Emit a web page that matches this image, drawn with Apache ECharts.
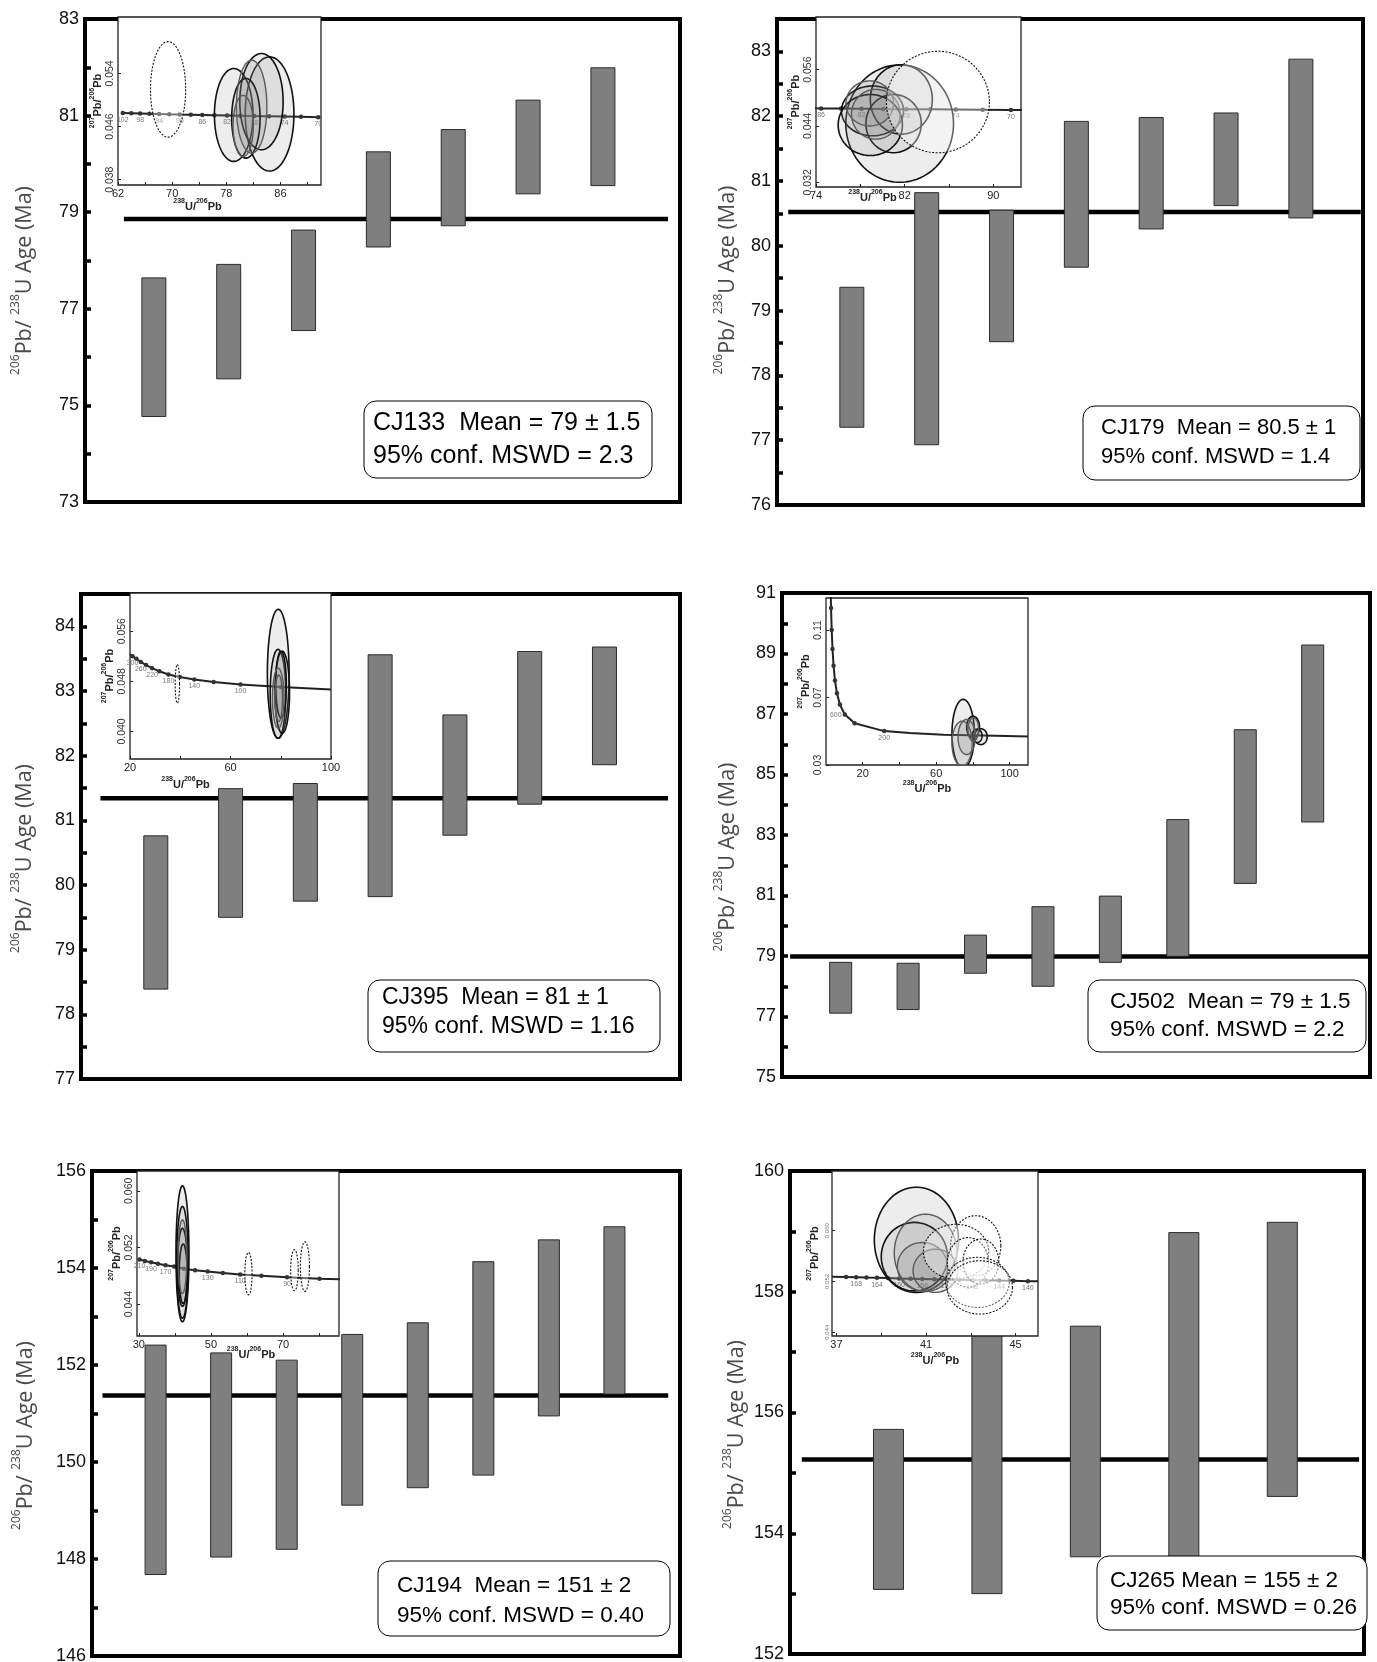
<!DOCTYPE html>
<html><head><meta charset="utf-8">
<script src="https://cdn.jsdelivr.net/npm/echarts@6/dist/echarts.min.js"></script>
<style>html,body{margin:0;padding:0;background:#fff}#c{width:1377px;height:1662px}</style>
</head><body><div id="c"></div>
<script>
// ===== Weighted-mean bars (206Pb/238U ages, Ma): low / high ends =====
const p1Low  = [74.77, 75.55, 76.55, 78.28, 78.72, 79.38, 79.55];
const p1High = [77.64, 77.92, 78.63, 80.25, 80.71, 81.32, 81.99];
const p1Mean = 78.86;
const p1YLabels = [73, 75, 77, 79, 81, 83];
const p1Text = ['CJ133  Mean = 79 \u00b1 1.5', '95% conf. MSWD = 2.3'];

const p2Low  = [77.20, 76.93, 78.52, 79.67, 80.26, 80.62, 80.43];
const p2High = [79.36, 80.82, 80.55, 81.92, 81.98, 82.05, 82.88];
const p2Mean = 80.52;
const p2YLabels = [76, 77, 78, 79, 80, 81, 82, 83];
const p2Text = ['CJ179  Mean = 80.5 \u00b1 1', '95% conf. MSWD = 1.4'];

const p3Low  = [78.39, 79.50, 79.75, 79.82, 80.77, 81.25, 81.86];
const p3High = [80.76, 81.49, 81.57, 83.56, 82.63, 83.61, 83.68];
const p3Mean = 81.34;
const p3YLabels = [77, 78, 79, 80, 81, 82, 83, 84];
const p3Text = ['CJ395  Mean = 81 \u00b1 1', '95% conf. MSWD = 1.16'];

const p4Low  = [77.11, 77.23, 78.43, 78.00, 78.79, 78.99, 81.40, 83.43];
const p4High = [78.79, 78.76, 79.69, 80.63, 80.98, 83.51, 86.48, 89.28];
const p4Mean = 78.98;
const p4YLabels = [75, 77, 79, 81, 83, 85, 87, 89, 91];
const p4Text = ['CJ502  Mean = 79 \u00b1 1.5', '95% conf. MSWD = 2.2'];

const p5Low  = [147.68, 148.04, 148.20, 149.11, 149.47, 149.73, 150.95, 151.40];
const p5High = [152.41, 152.25, 152.10, 152.63, 152.87, 154.13, 154.58, 154.85];
const p5Mean = 151.37;
const p5YLabels = [146, 148, 150, 152, 154, 156];
const p5Text = ['CJ194  Mean = 151 \u00b1 2', '95% conf. MSWD = 0.40'];

const p6Low  = [153.07, 153.00, 153.61, 153.30, 154.61];
const p6High = [155.72, 157.90, 157.43, 158.98, 159.15];
const p6Mean = 155.22;
const p6YLabels = [152, 154, 156, 158, 160];
const p6Text = ['CJ265 Mean = 155 \u00b1 2', '95% conf. MSWD = 0.26'];

// ===== Concordia insets: curve points [238U/206Pb, 207Pb/206Pb], age labels ('' = dot, null = no dot) =====
const i1XTicks = [62, 70, 78, 86], i1XMinor = [66, 74, 82, 90];
const i1YTicks = ['0.038', '0.046', '0.054'];
const i1Curve = [[62.70,0.04806],[63.97,0.04802],[65.28,0.04798],[66.65,0.04794],[68.08,0.04790],[69.57,0.04786],[71.13,0.04782],[72.76,0.04778],[74.46,0.04774],[76.25,0.04770],[78.12,0.04766],[80.08,0.04762],[82.15,0.04758],[84.32,0.04754],[86.62,0.04750],[89.04,0.04746],[91.59,0.04741]];
const i1Ages = ['102','','98','','94','','90','','86','','82','','78','','74','','70'];
const i1Black = [[84.4,0.0479,3.6,0.0086],[79.1,0.04775,2.85,0.0070],[83.2,0.04975,3.2,0.00725],[80.9,0.04725,2.1,0.0060]];
const i1Gray = [[81.75,0.0490,2.25,0.0070],[80.5,0.0461,1.5,0.0046]];
const i1Dash = [[69.4,0.0516,2.6,0.0072]];

const i2XTicks = [74, 82, 90], i2XMinor = [78, 86];
const i2YTicks = ['0.032', '0.044', '0.056'];
const i2Curve = [[72.76,0.04778],[74.46,0.04774],[76.25,0.04770],[78.12,0.04766],[80.08,0.04762],[82.15,0.04758],[84.32,0.04754],[86.62,0.04750],[89.04,0.04746],[91.59,0.04741],[93.0,0.04739]];
const i2Ages = ['','86','','82','','78','','74','','70',null];
const i2Black = [[81.55,0.0445,4.86,0.0125],[79.1,0.0472,2.8,0.0053],[81.7,0.04965,2.8,0.0074],[81.0,0.0445,2.5,0.0062],[78.9,0.0442,2.9,0.0065]];
const i2Gray = [[78.85,0.0488,2.15,0.0048],[79.4,0.0465,2.2,0.0053]];
const i2Dash = [[85.0,0.0491,4.65,0.0108]];

const i3XTicks = [20, 60, 100], i3XMinor = [40, 80];
const i3YTicks = ['0.040', '0.048', '0.056'];
const i3Curve = [[20.0,0.0523],[21.0,0.0520],[22.5,0.0516],[24.3,0.0511],[26.4,0.0506],[28.8,0.0501],[31.7,0.0496],[35.3,0.0491],[39.8,0.0487],[45.6,0.0483],[53.3,0.0479],[64.0,0.0475],[80.1,0.0471],[100,0.0467]];
const i3Ages = [null,'300','','260','','220','','180','','140','','100','',null];
const i3Black = [[79.0,0.0492,4.33,0.0103],[78.9,0.0460,3.1,0.0071],[80.6,0.04625,2.9,0.00655],[80.1,0.0475,2.1,0.0053]];
const i3Gray = [[79.0,0.0453,2.3,0.0048],[79.2,0.0453,1.5,0.0037]];
const i3Dash = [[38.85,0.0476,0.87,0.0031]];

const i4XTicks = [20, 60, 100], i4XMinor = [40, 80];
const i4YTicks = ['0.03', '0.07', '0.11'];
const i4Curve = [[2.6,0.131],[2.75,0.123],[3.10,0.110],[3.55,0.0987],[4.12,0.0888],[4.89,0.0801],[5.96,0.0725],[7.57,0.0658],[10.25,0.0599],[15.6,0.0547],[31.7,0.0501],[45.6,0.0489],[64,0.0480],[80,0.0476],[110,0.0469]];
const i4Ages = [null,'','','','','','','','600','','200',null,null,null,null];
const i4Black = [[74.7,0.0486,6.1,0.0203],[80.1,0.0525,3.5,0.0064],[84.3,0.0468,3.5,0.0047],[82.3,0.0473,2.7,0.0040]];
const i4Gray = [[74.1,0.0427,5.5,0.0133],[76.6,0.0466,4.7,0.0104],[80.2,0.0511,2.9,0.0070]];
const i4Dash = [];

const i5XTicks = [30, 50, 70], i5XMinor = [40, 60, 80];
const i5YTicks = ['0.044', '0.052', '0.060'];
const i5Curve = [[30.2,0.0503],[31.7,0.0501],[33.4,0.0499],[35.3,0.0497],[37.4,0.0495],[39.8,0.0493],[42.5,0.0490],[45.6,0.0488],[49.1,0.0486],[53.3,0.0484],[58.1,0.0482],[64.0,0.0480],[71.1,0.0478],[80.1,0.0476],[86,0.0475]];
const i5Ages = ['210','','190','','170','','','','130','','110','','90','',null];
const i5Black = [[42.1,0.0511,1.8,0.0096],[42.1,0.0499,1.6,0.0079],[42.1,0.0492,1.35,0.0055],[42.3,0.0483,1.1,0.0042]];
const i5Gray = [[42.1,0.0507,1.2,0.0052]];
const i5Dash = [[60.4,0.0483,1.0,0.0030],[73.15,0.0488,1.05,0.0029],[76.05,0.0493,1.25,0.0035]];

const i6XTicks = [37, 41, 45], i6XMinor = [39, 43];
const i6YTicks = ['0.044', '0.052', '0.060'];
const i6Curve = [[36.8,0.05272],[37.43,0.05269],[37.88,0.05265],[38.34,0.05260],[38.81,0.05256],[39.30,0.05252],[39.80,0.05247],[40.31,0.05243],[40.83,0.05239],[41.37,0.05234],[41.92,0.05230],[42.48,0.05226],[43.06,0.05221],[43.66,0.05217],[44.27,0.05213],[44.90,0.05209],[45.55,0.05204],[46.0,0.05201]];
const i6Ages = [null,'','168','','164','','160','','156','','152','','148','','144','','140',null];
const i6Black = [[40.57,0.05855,1.88,0.0083],[40.48,0.0559,1.48,0.0054]];
const i6Gray = [[40.98,0.0565,1.4,0.0061],[40.84,0.05434,1.12,0.0038],[41.42,0.05368,1.0,0.0034]];
const i6Dash = [[43.22,0.05762,1.12,0.00474],[42.34,0.0567,1.46,0.0043],[42.87,0.0550,0.92,0.0039],[43.45,0.05513,0.8,0.00355],[43.3,0.05185,1.42,0.00395],[43.4,0.05106,1.46,0.0042]];

// ===== Layout (positions / sizes / styles) =====
const FONT = '"Liberation Sans", Arial, sans-serif';
const TFONT = '"Open Sans", "Liberation Sans", sans-serif';
const panels = [
  {grid:{left:85,top:19,width:595,height:483}, x:[0.08,8.03], y:[73,83,1], yl:p1YLabels, low:p1Low, high:p1High, mean:p1Mean, meanX:[0.6,7.87], barW:24, nameGap:49, namePad:[0,40,0,0], text:p1Text,
   box:{x:364,y:401,w:288,h:77,tx:373,l1:423,l2:456,fs:25},
   ins:{grid:{left:118,top:17,width:203,height:168}, x:[62,92], y:[0.0372,0.0625], xt:i1XTicks, xm:i1XMinor, yt:i1YTicks, curve:i1Curve, ages:i1Ages, black:i1Black, gray:i1Gray, dash:i1Dash, xGap:13, xPad:[0,44,0,0], yGap:15, yfs:10.5, lpos:{}}},
  {grid:{left:777,top:19,width:586,height:486}, x:[0,7.83], y:[76,83.5,0.5], yl:p2YLabels, low:p2Low, high:p2High, mean:p2Mean, meanX:[0.15,7.8], barW:24, nameGap:38, namePad:[0,36,0,0], text:p2Text,
   box:{x:1083,y:406,w:277,h:74,tx:1101,l1:428,l2:457,fs:22},
   ins:{grid:{left:816,top:17,width:205,height:170}, x:[74,92.5], y:[0.031,0.0672], xt:i2XTicks, xm:i2XMinor, yt:i2YTicks, curve:i2Curve, ages:i2Ages, black:i2Black, gray:i2Gray, dash:i2Dash, xGap:2, xPad:[0,92,0,0], yGap:15, yfs:10.5, lpos:{}}},
  {grid:{left:81,top:594,width:599,height:485}, x:[0,8.01], y:[77,84.5,0.5], yl:p3YLabels, low:p3Low, high:p3High, mean:p3Mean, meanX:[0.26,7.85], barW:24, nameGap:45, namePad:[0,44,0,0], text:p3Text,
   box:{x:368,y:980,w:292,h:72,tx:382,l1:998,l2:1027,fs:23},
   ins:{grid:{left:130,top:593,width:201,height:166}, x:[20,100], y:[0.0356,0.0621], xt:i3XTicks, xm:i3XMinor, yt:i3YTicks, curve:i3Curve, ages:i3Ages, black:i3Black, gray:i3Gray, dash:i3Dash, xGap:17, xPad:[0,90,0,0], yGap:15, yfs:10.5, lpos:{}}},
  {grid:{left:782,top:593,width:588,height:484}, x:[0.13,8.85], y:[75,91,1], yl:p4YLabels, low:p4Low, high:p4High, mean:p4Mean, meanX:[0.25,8.85], barW:22, nameGap:43, namePad:[0,44,0,0], text:p4Text,
   box:{x:1088,y:980,w:278,h:72,tx:1110,l1:1002,l2:1030,fs:22.5},
   ins:{grid:{left:826,top:598,width:202,height:167}, x:[0,110], y:[0.03,0.129], xt:i4XTicks, xm:i4XMinor, yt:i4YTicks, curve:i4Curve, ages:i4Ages, black:i4Black, gray:i4Gray, dash:i4Dash, xGap:15, xPad:[0,0,0,0], yGap:15, yfs:10.5, lpos:{'600':'left'}}},
  {grid:{left:92,top:1171,width:588,height:485}, x:[0.03,9.0], y:[146,156,1], yl:p5YLabels, low:p5Low, high:p5High, mean:p5Mean, meanX:[0.19,8.82], barW:21, nameGap:55, namePad:[0,44,0,0], text:p5Text,
   box:{x:378,y:1561,w:292,h:75,tx:397,l1:1586,l2:1616,fs:22.5},
   ins:{grid:{left:137,top:1171,width:202,height:165}, x:[29.5,85.5], y:[0.0395,0.0628], xt:i5XTicks, xm:i5XMinor, yt:i5YTicks, curve:i5Curve, ages:i5Ages, black:i5Black, gray:i5Gray, dash:i5Dash, xGap:10, xPad:[0,0,0,26], yGap:15, yfs:10.5, lpos:{}}},
  {grid:{left:790,top:1171,width:574,height:483}, x:[0,5.83], y:[152,160,1], yl:p6YLabels, low:p6Low, high:p6High, mean:p6Mean, meanX:[0.12,5.78], barW:30, nameGap:42, namePad:[0,44,0,0], text:p6Text,
   box:{x:1097,y:1556,w:270,h:74,tx:1110,l1:1581,l2:1608,fs:22.5},
   ins:{grid:{left:832,top:1171,width:206,height:165}, x:[36.8,46], y:[0.0434,0.0694], xt:i6XTicks, xm:i6XMinor, yt:i6YTicks, curve:i6Curve, ages:i6Ages, black:i6Black, gray:i6Gray, dash:i6Dash, xGap:16, xPad:[0,0,0,0], yGap:12, yfs:6, lpos:{}}}
];

const grids = [], xAxes = [], yAxes = [], series = [], graphics = [];

function barRender(w) {
  return function (params, api) {
    const x = api.value(0);
    const top = api.coord([x, api.value(2)]);
    const bot = api.coord([x, api.value(1)]);
    return {type:'rect', shape:{x: top[0] - w/2, y: top[1], width: w, height: bot[1] - top[1]},
      style:{fill:'#7f7f7f', stroke:'#2b2b2b', lineWidth:1}};
  };
}
function ellRender(style) {
  return function (params, api) {
    const c = api.coord([api.value(0), api.value(1)]);
    const s = api.size([api.value(2), api.value(3)]);
    const pts = [];
    for (let a = 0; a < 90; a++) {
      const t = a / 90 * Math.PI * 2;
      pts.push([c[0] + s[0] * Math.cos(t), c[1] + s[1] * Math.sin(t)]);
    }
    return {type:'polygon', shape:{points: pts}, style: style};
  };
}

const mainName = '{s|206}{t|Pb/ }{s|238}{t|U Age (Ma)}';
const insYName = '{s|207}{t|Pb/}{s|206}{t|Pb}';
const insXName = '{s|238}{t|U/}{s|206}{t|Pb}';

panels.forEach((p, k) => {
  const gi = 2 * k, ii = 2 * k + 1;
  grids.push(Object.assign({show:true, borderColor:'#000', borderWidth:4, backgroundColor:'transparent', containLabel:false, outerBoundsMode:'none', z:0}, p.grid));
  const I = p.ins;
  grids.push(Object.assign({show:true, borderColor:'#222', borderWidth:1.3, backgroundColor:'#fff', containLabel:false, outerBoundsMode:'none', z:10}, I.grid));

  xAxes.push({type:'value', gridIndex: gi, min: p.x[0], max: p.x[1], show:false});
  yAxes.push({type:'value', gridIndex: gi, min: p.y[0], max: p.y[1], interval: p.y[2],
    axisLine:{show:true, onZero:false, lineStyle:{color:'#000', width:4}},
    axisTick:{show:true, inside:true, length:6, lineStyle:{color:'#000', width:3.5}},
    axisLabel:{show:true, margin:6, fontSize:18, fontFamily:FONT, color:'#111', showMinLabel:true, showMaxLabel:true,
      formatter: (v) => p.yl.some(l => Math.abs(l - v) < 1e-6) ? String(Math.round(v)) : ''},
    splitLine:{show:false},
    name: mainName, nameLocation:'middle', nameGap: p.nameGap, nameRotate:90, nameMoveOverlap:false,
    nameTextStyle:{color:'#4a4a4a', fontFamily:TFONT, padding: p.namePad, rich:{
      t:{fontSize:21.5, fontFamily:TFONT, color:'#4a4a4a', lineHeight:26, verticalAlign:'bottom'},
      s:{fontSize:12, fontFamily:TFONT, color:'#4a4a4a', lineHeight:19, verticalAlign:'top'}}}
  });

  const xt = I.xt, ytN = I.yt.map(Number);
  xAxes.push({type:'value', gridIndex: ii, min: I.x[0], max: I.x[1], z:11,
    axisLine:{show:false}, splitLine:{show:false},
    axisTick:{show:true, inside:true, length:3, customValues: xt.concat(I.xm), lineStyle:{color:'#222', width:1}},
    axisLabel:{show:true, customValues: xt, fontSize:11, fontFamily:FONT, color:'#222', margin:3, showMinLabel:true, showMaxLabel:true},
    name: insXName, nameLocation:'middle', nameGap: I.xGap, nameMoveOverlap:false,
    nameTextStyle:{padding: I.xPad, rich:{
      t:{fontSize:11, fontWeight:'bold', fontFamily:FONT, color:'#222', lineHeight:14, verticalAlign:'bottom'},
      s:{fontSize:7, fontWeight:'bold', fontFamily:FONT, color:'#222', lineHeight:10, verticalAlign:'top'}}}
  });
  yAxes.push({type:'value', gridIndex: ii, min: I.y[0], max: I.y[1], z:11,
    axisLine:{show:false}, splitLine:{show:false},
    axisTick:{show:true, inside:true, length:3, customValues: ytN, lineStyle:{color:'#222', width:1}},
    axisLabel:{show:true, customValues: ytN, rotate:90, fontSize: I.yfs, fontFamily:FONT, color: I.yfs < 8 ? '#777' : '#333', margin:2,
      showMinLabel:true, showMaxLabel:true,
      formatter: (v) => { const s = I.yt.find(t => Math.abs(Number(t) - v) < 1e-9); return s || ''; }},
    name: insYName, nameLocation:'middle', nameGap: I.yGap, nameRotate:90, nameMoveOverlap:false,
    nameTextStyle:{rich:{
      t:{fontSize:11, fontWeight:'bold', fontFamily:FONT, color:'#222', lineHeight:14, verticalAlign:'bottom'},
      s:{fontSize:7, fontWeight:'bold', fontFamily:FONT, color:'#222', lineHeight:10, verticalAlign:'top'}}}
  });

  // mean line
  series.push({type:'line', xAxisIndex: gi, yAxisIndex: gi, data:[[p.meanX[0], p.mean],[p.meanX[1], p.mean]],
    symbol:'none', lineStyle:{color:'#000', width:4.5}, z:2, silent:true});
  // bars
  series.push({type:'custom', xAxisIndex: gi, yAxisIndex: gi, renderItem: barRender(p.barW), z:3,
    encode:{x:0, y:[1,2]}, data: p.low.map((l, i) => [i + 1, l, p.high[i]])});
  // concordia curve
  series.push({type:'line', xAxisIndex: ii, yAxisIndex: ii, z:12, symbolSize:4.5, showAllSymbol:true,
    itemStyle:{color:'#333'}, lineStyle:{color:'#222', width:2},
    label:{fontSize:7, color:'#777', fontFamily:FONT, position:'bottom', distance:1},
    data: I.curve.map((pt, i) => {
      const a = I.ages[i];
      return {value: pt, symbol: a === null ? 'none' : 'circle',
        label:{show: !!a, formatter: a || '', position: (a && I.lpos[a]) || 'bottom'}};
    })});
  // ellipses
  series.push({type:'custom', xAxisIndex: ii, yAxisIndex: ii, z:13, clip:true, data: I.black,
    renderItem: ellRender({fill:'rgba(150,150,150,0.17)', stroke:'#111', lineWidth:1.6})});
  series.push({type:'custom', xAxisIndex: ii, yAxisIndex: ii, z:13, clip:true, data: I.gray,
    renderItem: ellRender({fill:'rgba(120,120,120,0.16)', stroke:'#5a5a5a', lineWidth:1.4})});
  series.push({type:'custom', xAxisIndex: ii, yAxisIndex: ii, z:13, clip:true, data: I.dash,
    renderItem: ellRender({fill:'rgba(255,255,255,0.35)', stroke:'#111', lineWidth:1.1, lineDash:[2,1.5]})});

  // annotation box
  const b = p.box;
  graphics.push({type:'group', z:50, children:[
    {type:'rect', shape:{x:b.x, y:b.y, width:b.w, height:b.h, r:12}, style:{fill:'#fff', stroke:'#000', lineWidth:1}, z:50},
    {type:'text', x:b.tx, y:b.l1, style:{text:p.text[0], fill:'#000', font: b.fs + 'px "Liberation Sans", Arial, sans-serif', verticalAlign:'middle', align:'left'}, z:51},
    {type:'text', x:b.tx, y:b.l2, style:{text:p.text[1], fill:'#000', font: b.fs + 'px "Liberation Sans", Arial, sans-serif', verticalAlign:'middle', align:'left'}, z:51}
  ]});
});

const chart = echarts.init(document.getElementById('c'), null, {renderer:'canvas', width:1377, height:1662});
chart.setOption({animation:false, backgroundColor:'#fff', grid: grids, xAxis: xAxes, yAxis: yAxes, series: series, graphic: graphics});
</script>
</body></html>
